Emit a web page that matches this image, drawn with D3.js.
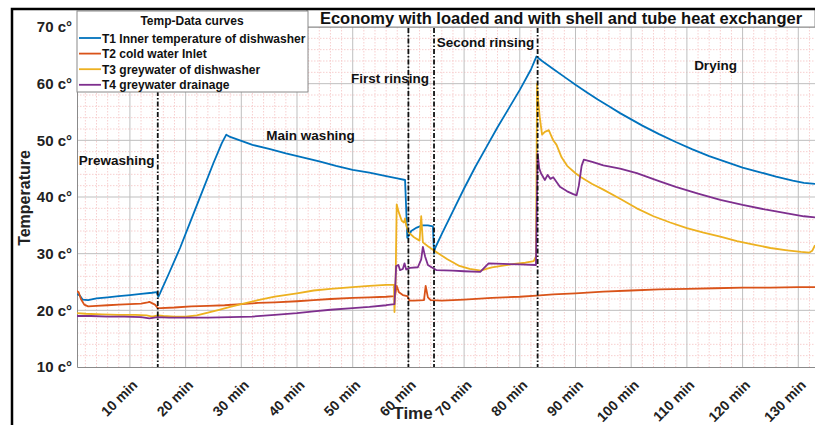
<!DOCTYPE html>
<html>
<head>
<meta charset="utf-8">
<script src="https://cdn.jsdelivr.net/npm/d3@7/dist/d3.min.js"></script>
<style>
  html, body { margin: 0; padding: 0; background: #fff; }
  svg { display: block; font-family: "Liberation Sans", Arial, sans-serif; }
</style>
</head>
<body>
<svg id="chart" width="815" height="425"></svg>
<script>
// ---- data: time in minutes, temperature in °C ----
const seriesNames = [
  "T1 Inner temperature of dishwasher",
  "T2 cold water Inlet",
  "T3 greywater of dishwasher",
  "T4 greywater drainage"
];
const seriesColors = ["#0072BD", "#D95319", "#EDB120", "#7E2F8E"];

const t1Time = [0.5,1.0,1.5,2.5,4,6,8,10,12,14,14.8,15.1,15.4,17,19,21,23,25,26.5,27.3,28,30,32,35,38,41,44,47,50,53,56,58,59.4,59.6,59.8,60.1,60.5,61.5,62.5,63.5,64.4,64.6,64.8,66,68,70,72,74,76,78,80,82,83,84,86,88,90,92,94,96,98,100,102,105,108,111,114,117,120,123,126,129,131,133];
const t1Temp = [22.9,22.6,21.9,21.8,22.1,22.3,22.5,22.7,22.9,23.1,23.2,22.4,23.0,26.5,31,36,41,46,49.5,51,50.6,49.9,49.2,48.5,47.7,47,46.3,45.5,44.8,44.3,43.7,43.3,43,38,32.8,33.2,34,34.6,35,35,34.8,30,31,33.5,37.5,41.5,45.3,48.8,52.3,55.6,58.9,62.5,64.8,64.0,62.6,61.2,59.8,58.5,57.2,56.0,54.8,53.7,52.6,51.1,49.7,48.4,47.2,46.2,45.2,44.4,43.6,42.9,42.5,42.3];

const t2Time = [0.5,0.8,1.2,1.8,2.5,4,6,8,10,12,13.2,13.5,14.5,15,15.5,18,21,24,27,30,33,36,40,43,46,50,53,56,57.6,57.9,58.3,59,59.8,60.2,61,62.8,63.1,63.5,64,66,70,75,80,83,86,90,95,100,105,110,115,120,125,130,133];
const t2Temp = [23.4,23.2,22,21,20.7,20.8,20.9,21,21.1,21.2,21.4,21.5,21,20.4,20.4,20.5,20.7,20.8,20.9,21.1,21.3,21.4,21.6,21.8,22,22.2,22.3,22.4,22.5,24.3,23.2,22.7,22.5,21.7,21.7,21.8,24.3,22.3,21.8,21.7,21.9,22.2,22.4,22.6,22.8,23,23.3,23.5,23.7,23.8,23.9,24,24,24.1,24.1];

const t3Time = [0.5,2,5,8,11,13,14,15,16,18,20,22,24,26,28,30,33,36,40,43,46,50,53,56,57.4,57.5,57.7,57.9,58.2,58.8,59.2,59.4,59.6,60,61,62,62.3,62.6,63.5,65,67,69,71,73,74,75,77,79,81,82.5,82.9,83.1,83.3,83.6,84,84.5,85.2,86,86.6,87.5,88.5,90,91,93,95,98,101,104,107,110,113,116,119,122,125,128,130.5,132,132.5,133];
const t3Temp = [19.5,19.4,19.3,19.2,19.2,19.1,18.9,19.1,19,18.9,18.9,19.1,19.6,20.1,20.6,21.1,21.8,22.4,23,23.5,23.8,24.1,24.3,24.5,24.5,19.7,25,38.7,37.5,35.8,35.5,36.2,35,33.8,32.9,32.3,36.6,32,31.3,30.3,29,27.9,27.3,27,27.3,27.6,27.9,28.2,28.4,28.7,29.5,60,57,53.9,51,51.5,51.8,50,49.2,47,45.5,44.2,43.5,42.3,41.3,39.7,38,36.6,35.5,34.5,33.7,33,32.2,31.6,31,30.6,30.3,30.2,30.5,31.5];

const t4Time = [0.5,3,6,9,12,13.5,15,17,20,24,28,32,36,40,43,46,50,53,56,57.5,57.8,58.2,58.5,59,59.3,59.6,60.3,61.7,62.3,62.6,63,63.5,64,65,68,70,72.9,73.6,74.4,77,80,82.9,83.2,83.5,83.8,84.5,85,85.5,86,87.2,88.5,89.6,90.2,90.6,91.1,91.5,93,95,98,101,105,108,112,116,120,124,128,131,133];
const t4Temp = [19,19,18.9,18.9,18.8,18.6,18.8,18.7,18.7,18.7,18.8,18.9,19.2,19.5,19.8,20.1,20.4,20.6,20.9,21.1,27.8,28,27.1,27.3,28.3,27.2,27.5,27.6,29,31.2,29.5,28,27.7,27.1,27,26.9,26.8,27.5,28.3,28.2,28.1,28,47.7,45,44.2,43,43.9,43.2,43.5,41.8,41,40.5,40.3,42,45.5,46.6,46.2,45.6,45,44.2,42.8,41.8,40.6,39.5,38.6,37.8,37.1,36.6,36.4];

// phase boundaries (min) and phase captions
const phaseBounds = [15, 60, 64.6, 83.2];
const phaseLabels = ["Prewashing", "Main washing", "First rinsing", "Second rinsing", "Drying"];
const phaseLabelTime = [0.8, 34.5, 49.7, 65.1, 111.3];
const phaseLabelTemp = [45.7, 50.1, 60.1, 66.5, 62.4];

const xTicks = [10, 20, 30, 40, 50, 60, 70, 80, 90, 100, 110, 120, 130];
const yTicks = [10, 20, 30, 40, 50, 60, 70];

const titleText = "Economy with loaded and with shell and tube heat exchanger";
const legendTitle = "Temp-Data curves";

// ---- layout ----
const svg = d3.select("#chart");
const W = 815, H = 425;
const plot = { left: 77, top: 27, right: 815, bottom: 367 };

const x = d3.scaleLinear().domain([0.5, 133]).range([plot.left, plot.right]);
const y = d3.scaleLinear().domain([10, 70]).range([plot.bottom, plot.top]);

svg.append("rect").attr("width", W).attr("height", H).attr("fill", "#fff");

// minor grid (every 2 units)
const minorX = d3.range(2, 134, 2).filter(v => v % 10 !== 0);
const minorY = d3.range(12, 70, 2).filter(v => v % 10 !== 0);
const grid = svg.append("g");
grid.selectAll(".mx").data(minorX).join("line")
  .attr("x1", d => x(d)).attr("x2", d => x(d))
  .attr("y1", plot.top).attr("y2", plot.bottom)
  .attr("stroke", "#f7cfcf").attr("stroke-width", 1).attr("stroke-dasharray", "1.5,1.5");
grid.selectAll(".my").data(minorY).join("line")
  .attr("x1", plot.left).attr("x2", plot.right)
  .attr("y1", d => y(d)).attr("y2", d => y(d))
  .attr("stroke", "#f7cfcf").attr("stroke-width", 1).attr("stroke-dasharray", "1.5,1.5");

// major grid
grid.selectAll(".Mx").data(xTicks).join("line")
  .attr("x1", d => x(d)).attr("x2", d => x(d))
  .attr("y1", plot.top).attr("y2", plot.bottom)
  .attr("stroke", "#bfbfbf").attr("stroke-width", 1);
grid.selectAll(".My").data(yTicks.slice(1, -1)).join("line")
  .attr("x1", plot.left).attr("x2", plot.right)
  .attr("y1", d => y(d)).attr("y2", d => y(d))
  .attr("stroke", "#bfbfbf").attr("stroke-width", 1);

// axes
const xAxis = svg.append("g").attr("transform", `translate(0,${plot.bottom})`)
  .call(d3.axisBottom(x).tickValues(xTicks).tickSize(0).tickFormat(d => d + " min"));
xAxis.select(".domain").attr("stroke", "#8a8a8a");
xAxis.selectAll("text")
  .attr("font-size", 14).attr("font-weight", "bold").attr("fill", "#222")
  .attr("text-anchor", "end")
  .attr("x", 0).attr("y", 0).attr("dy", 0)
  .attr("transform", "translate(8,19) rotate(-45)");

const yAxis = svg.append("g").attr("transform", `translate(${plot.left},0)`)
  .call(d3.axisLeft(y).tickValues(yTicks).tickSize(0).tickPadding(5).tickFormat(d => d + " c°"));
yAxis.select(".domain").attr("stroke", "#8a8a8a");
yAxis.selectAll("text").attr("font-size", 15).attr("font-weight", "bold").attr("fill", "#222");

// top border of plot
svg.append("line").attr("x1", plot.left).attr("x2", plot.right)
  .attr("y1", plot.top).attr("y2", plot.top).attr("stroke", "#8a8a8a");

// axis titles
svg.append("text").attr("x", 413).attr("y", 419).attr("text-anchor", "middle")
  .attr("font-size", 17).attr("font-weight", "bold").attr("fill", "#222").text("Time");
svg.append("text").attr("transform", "translate(30,198) rotate(-90)").attr("text-anchor", "middle")
  .attr("font-size", 16).attr("font-weight", "bold").attr("fill", "#222").text("Temperature");

// clip for the curves
svg.append("clipPath").attr("id", "plotClip").append("rect")
  .attr("x", plot.left).attr("y", plot.top)
  .attr("width", plot.right - plot.left).attr("height", plot.bottom - plot.top);

// curves
const series = [
  { t: t1Time, v: t1Temp },
  { t: t2Time, v: t2Temp },
  { t: t3Time, v: t3Temp },
  { t: t4Time, v: t4Temp }
];
const line = d3.line().x(d => x(d[0])).y(d => y(d[1]));
const curves = svg.append("g").attr("clip-path", "url(#plotClip)");
series.forEach((s, i) => {
  const pts = s.t.map((tt, k) => [tt, s.v[k]]);
  curves.append("path").datum(pts)
    .attr("d", line).attr("fill", "none")
    .attr("stroke", seriesColors[i]).attr("stroke-width", 1.8)
    .attr("stroke-linejoin", "round");
});

// phase boundary lines
const bounds = svg.append("g");
phaseBounds.forEach(b => {
  bounds.append("line").attr("x1", x(b)).attr("x2", x(b))
    .attr("y1", plot.top + 1).attr("y2", plot.bottom)
    .attr("stroke", "#111").attr("stroke-width", 1.8)
    .attr("stroke-dasharray", "5,2,1.5,2");
});

// phase captions
svg.append("g").selectAll("text").data(phaseLabels).join("text")
  .attr("x", (d, i) => x(phaseLabelTime[i]))
  .attr("y", (d, i) => y(phaseLabelTemp[i]))
  .attr("font-size", 13.5).attr("font-weight", "bold").attr("fill", "#111")
  .text(d => d);

// title box
svg.append("rect").attr("x", 307).attr("y", 9).attr("width", W - 307).attr("height", plot.top - 9)
  .attr("fill", "#fff").attr("stroke", "#8a8a8a").attr("stroke-width", 1);
svg.append("text").attr("x", 561).attr("y", 23.5).attr("text-anchor", "middle")
  .attr("font-size", 16.5).attr("font-weight", "bold").attr("fill", "#111").text(titleText);

// legend
const lg = svg.append("g");
lg.append("rect").attr("x", 77).attr("y", 11).attr("width", 231).attr("height", 81)
  .attr("fill", "#fff").attr("stroke", "#8a8a8a").attr("stroke-width", 1);
lg.append("text").attr("x", 192).attr("y", 25).attr("text-anchor", "middle")
  .attr("font-size", 12).attr("font-weight", "bold").attr("fill", "#111").text(legendTitle);
seriesNames.forEach((name, i) => {
  const yy = 38 + i * 15.6;
  lg.append("line").attr("x1", 79).attr("x2", 101).attr("y1", yy).attr("y2", yy)
    .attr("stroke", seriesColors[i]).attr("stroke-width", 1.8);
  lg.append("text").attr("x", 102).attr("y", yy + 4.5)
    .attr("font-size", 12).attr("font-weight", "bold").attr("fill", "#111").text(name);
});

// outer frame (left and top)
svg.append("path").attr("d", `M12,${H} L12,9 L${W},9`)
  .attr("fill", "none").attr("stroke", "#000").attr("stroke-width", 2.5);
</script>
</body>
</html>
